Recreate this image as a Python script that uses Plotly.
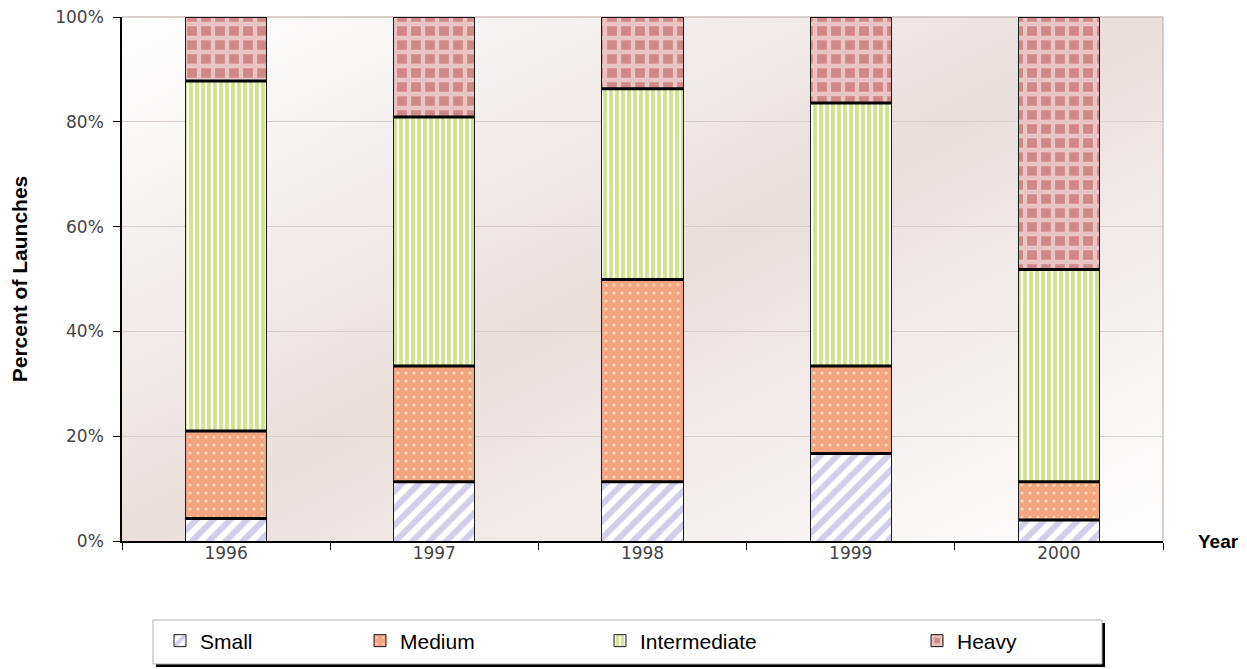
import base64
import plotly.graph_objects as go

years = ["1996", "1997", "1998", "1999", "2000"]
small = [4.3, 11.3, 11.3, 16.7, 4.0]
medium = [16.7, 22.1, 38.6, 16.7, 7.3]
intermediate = [66.8, 47.5, 36.4, 50.2, 40.5]
heavy = [12.2, 19.1, 13.7, 16.4, 48.2]
y_ticks = [0, 20, 40, 60, 80, 100]
y_ticktext = ["0%", "20%", "40%", "60%", "80%", "100%"]

# plot-area geometry in screen pixels; the page body adds an 8px offset
OFF = 8
L, R, T, B = 122, 1163, 17, 541
W, H = R - L, B - T
FIG_W, FIG_H = 1247, 669


def px(x):
    return (x - L) / W


def py(y):
    return (B - y) / H


fig = go.Figure()

series = [
    ("Small", small, dict(shape="/", fgcolor="#a29dd1", bgcolor="#ffffff", size=12, solidity=0.5), "legend"),
    ("Medium", medium, dict(shape=".", fgcolor="#ffffff", bgcolor="#f3a680", size=8, solidity=0.12), "legend2"),
    ("Intermediate", intermediate, dict(shape="|", fgcolor="#a6c821", bgcolor="#ffffff", size=6, solidity=0.65), "legend3"),
    ("Heavy", heavy, dict(shape="+", fgcolor="#ffffff", bgcolor="#d08886", size=14, solidity=0.52), "legend4"),
]

for name, vals, pat, lg in series:
    fig.add_trace(go.Bar(
        x=years, y=vals, name=name, width=0.39,
        marker=dict(color=pat["bgcolor"], pattern=pat, line=dict(color="#1a1a1a", width=1)),
        legend=lg,
    ))

# thick separators at the top of each lower segment
cum1 = [a for a in small]
cum2 = [a + b for a, b in zip(small, medium)]
cum3 = [a + b + c for a, b, c in zip(small, medium, intermediate)]
for c in (cum1, cum2, cum3):
    fig.add_trace(go.Scatter(
        x=years, y=c, mode="markers", showlegend=False, hoverinfo="skip",
        marker=dict(symbol="line-ew", size=58, line=dict(color="#000000", width=3)),
    ))

svg = ("<svg xmlns='http://www.w3.org/2000/svg' width='100' height='100' viewBox='0 0 100 100' "
       "preserveAspectRatio='none'><defs><linearGradient id='g' x1='0' y1='0' x2='1' y2='1'>"
       "<stop offset='0' stop-color='#ffffff'/><stop offset='0.5' stop-color='#e8dfdc'/>"
       "<stop offset='1' stop-color='#ffffff'/></linearGradient></defs>"
       "<rect width='100' height='100' fill='url(#g)'/></svg>")
src = "data:image/svg+xml;base64," + base64.b64encode(svg.encode()).decode()

legend_common = dict(orientation="h", bgcolor="rgba(0,0,0,0)", borderwidth=0,
                     xanchor="left", yanchor="middle", y=py(641),
                     font=dict(family="Liberation Sans, Arial, sans-serif", size=21, color="#000000"))

tick_font = dict(family="DejaVu Sans, Verdana, sans-serif", size=17, color="#444444")

fig.update_layout(
    width=FIG_W, height=FIG_H,
    margin=dict(l=L - OFF, r=FIG_W - (R - OFF), t=T - OFF, b=FIG_H - (B - OFF), autoexpand=False),
    paper_bgcolor="#ffffff",
    plot_bgcolor="rgba(0,0,0,0)",
    barmode="stack",
    images=[dict(source=src, xref="paper", yref="paper", x=0, y=1, sizex=1, sizey=1,
                 sizing="stretch", layer="below", xanchor="left", yanchor="top")],
    xaxis=dict(
        type="category", tickson="boundaries", ticks="outside", ticklen=7, tickcolor="#000000",
        showline=True, linecolor="#000000", linewidth=1.5, showgrid=False,
        tickfont=tick_font, ticklabelstandoff=-4,
    ),
    yaxis=dict(
        range=[0, 100], tickmode="array", tickvals=y_ticks, ticktext=y_ticktext,
        ticks="outside", ticklen=7, ticklabelstandoff=6, ticklabeloverflow="allow",
        tickcolor="#000000", showline=True, linecolor="#000000", linewidth=1.5,
        showgrid=True, gridcolor="#d8cecb", gridwidth=1, zeroline=False,
        tickfont=tick_font,
        title=dict(text="Percent of Launches", standoff=34,
                   font=dict(family="Liberation Sans, Arial, sans-serif", size=21, color="#000000", weight="bold")),
    ),
    legend=dict(**legend_common, x=px(160)),
    legend2=dict(**legend_common, x=px(360)),
    legend3=dict(**legend_common, x=px(600)),
    legend4=dict(**legend_common, x=px(917)),
    shapes=[
        # plot-area right/top border
        dict(type="line", xref="paper", yref="paper", x0=1, x1=1, y0=0, y1=1,
             line=dict(color="#cdbfbb", width=1.5), layer="below"),
        dict(type="line", xref="paper", yref="paper", x0=0, x1=1, y0=1, y1=1,
             line=dict(color="#cdbfbb", width=1.5), layer="below"),
        # legend box shadow and frame
        dict(type="rect", xref="paper", yref="paper", x0=px(156), x1=px(1105), y0=py(667), y1=py(623),
             fillcolor="#000000", line=dict(width=0), layer="below"),
        dict(type="rect", xref="paper", yref="paper", x0=px(153), x1=px(1102), y0=py(664), y1=py(620),
             fillcolor="#ffffff", line=dict(color="#b0b0b0", width=1), layer="below"),
    ],
    annotations=[
        dict(text="<b>Year</b>", xref="paper", yref="paper", x=px(1196), y=0,
             xanchor="left", yanchor="middle", showarrow=False,
             font=dict(family="Liberation Sans, Arial, sans-serif", size=19, color="#000000")),
    ],
)

fig.write_html("out.html")
